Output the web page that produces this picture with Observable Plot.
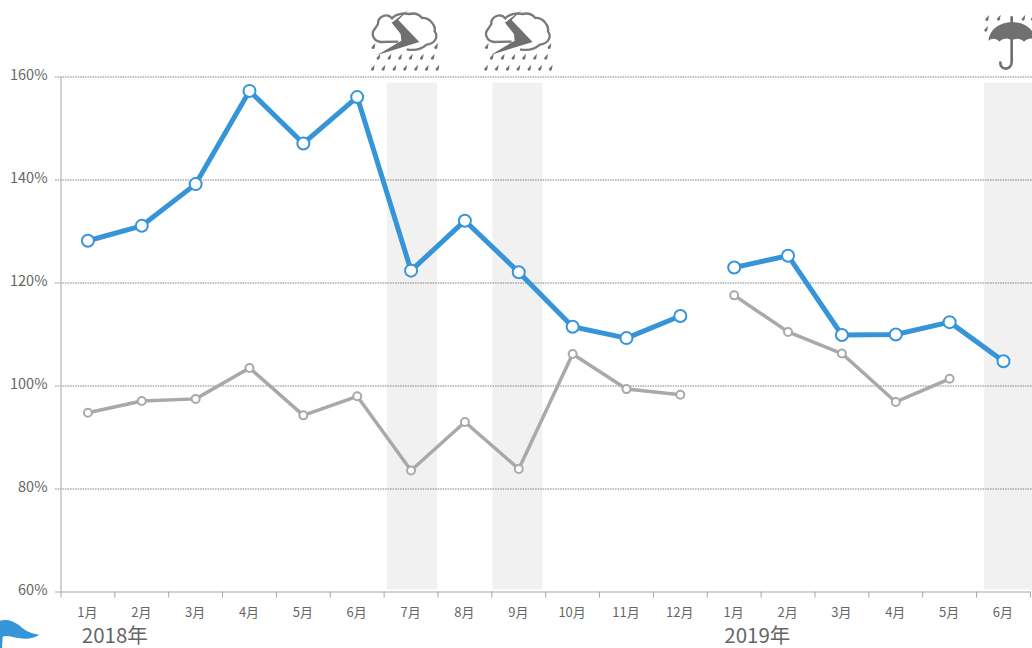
<!DOCTYPE html>
<html>
<head>
<meta charset="utf-8">
<script src="https://cdn.jsdelivr.net/npm/d3@7"></script>
<script src="https://cdn.jsdelivr.net/npm/@observablehq/plot@0.6"></script>
<style>
html,body{margin:0;padding:0;background:#fff;overflow:hidden}
svg{display:block}
</style>
</head>
<body>
<div id="chart"></div>
<script>
const months = ["1月","2月","3月","4月","5月","6月","7月","8月","9月","10月","11月","12月","1月","2月","3月","4月","5月","6月"];
const years = [2018,2018,2018,2018,2018,2018,2018,2018,2018,2018,2018,2018,2019,2019,2019,2019,2019,2019];
const blueValues = [128.2,131.1,139.2,157.3,147.1,156.1,122.4,132.1,122.1,111.5,109.3,113.6,123,125.3,109.9,110,112.4,104.8];
const grayValues = [94.8,97.1,97.5,103.5,94.3,98,83.6,93,83.9,106.2,99.4,98.3,117.6,110.5,106.3,96.9,101.4,null];
const yTicks = [60,80,100,120,140,160];
const yearLabels = [{at:1,label:"2018年"},{at:12.93,label:"2019年"}];
const shades = [{x1:6.06,x2:6.99},{x1:8.02,x2:8.95},{x1:17.15,x2:18.1}];

const BLUE="#3694d9", GRAY="#a9a9a9", TEXT="#666666", FONT="'Noto Sans CJK JP','Noto Sans',sans-serif";
const rows = months.map((m,i)=>({i:i+0.5,m,year:years[i],blue:blueValues[i],gray:grayValues[i]}));
const grayRows = rows.filter(d=>d.gray!=null);

function drops(list){return list.map(([x,y])=>`M${x+6},${y-11}L${x-5},${y+1}C${x-7},${y+8} ${x+3},${y+9} ${x+4},${y+3}Z`).join("");}
const stormDrops = drops([[40,140],[228,140],[55,172],[88,172],[120,172],[152,172],[185,172],[218,172],[38,205],[70,205],[103,205],[135,205],[168,205],[200,205],[232,205]]);
function stormIcon(g,tx){
  const s=g.append("g").attr("transform",`translate(${tx},0) scale(0.3333)`);
  s.append("path").attr("d","M115,125 L62,126 C42,124 30,102 45,86 C48,80 52,76 54,72 C52,52 80,36 96,55 C106,42 130,38 148,42 C165,38 178,44 186,54 C208,52 228,76 224,94 C236,110 226,130 200,134 C184,148 160,152 140,148").attr("fill","none").attr("stroke","#7a7a7a").attr("stroke-width",7);
  s.append("path").attr("d","M145,30 L95,68 L122,102 L124,122 L52,165 L178,126 L115,60 Z").attr("fill","#707070");
  s.append("path").attr("d",stormDrops).attr("fill","#707070");
}
function umbrella(g){
  const s=g.append("g").attr("transform","translate(960,0) scale(0.3333)");
  s.append("path").attr("d","M85,123 C90,85 120,68 155,66 C190,66 222,85 230,123 C220,113 205,113 192,125 C180,113 165,115 155,122 C145,113 130,113 118,125 C108,114 95,114 85,123Z").attr("fill","#707070");
  s.append("path").attr("d","M155,52 L155,186 C155,212 120,212 121,188").attr("fill","none").attr("stroke","#707070").attr("stroke-width",8).attr("stroke-linecap","round");
  s.append("path").attr("d",drops([[81,56],[116,55],[190,55],[218,55],[78,88]])).attr("fill","#707070");
}
function flag(g){
  g.append("path").attr("transform","translate(0,570) scale(0.3333)")
   .attr("d","M0,152 C20,146 40,152 58,166 C72,180 88,190 117,194 C105,204 80,208 60,205 C40,202 22,194 8,200 L6,234 L0,234 Z").attr("fill",BLUE);
}
function decorations(){
  const g=d3.create("svg:g");
  stormIcon(g,360); stormIcon(g,473.3); umbrella(g); flag(g);
  return g.node();
}

const chart = Plot.plot({
  width:1032, height:648,
  marginLeft:60.5, marginRight:2.1, marginTop:76.5, marginBottom:56.5,
  style:{fontFamily:FONT, background:"#fff", color:TEXT},
  x:{domain:[0,18], axis:null},
  y:{domain:[60,160], axis:null},
  marks:[
    Plot.rect(shades,{x1:"x1",x2:"x2",y1:60.4,y2:158.8,fill:"#f1f1f1"}),
    Plot.ruleY(yTicks.filter(d=>d>60),{x1:-0.1,x2:18.2,stroke:"#7f7f7f",strokeWidth:1,strokeDasharray:"1.5 1"}),
    Plot.ruleY([60],{x1:-0.1,x2:18,stroke:"#a6a6a6",strokeWidth:1}),
    Plot.ruleX([0],{y1:60,y2:160,stroke:"#a6a6a6",strokeWidth:1}),
    Plot.axisY({ticks:yTicks,tickFormat:d=>d+"%",tickSize:0,tickPadding:13.5,dy:-1.5,fontSize:14.5,stroke:TEXT,fill:TEXT}),
    Plot.axisX({ticks:d3.range(0,19),tickSize:6,tickPadding:0,tickFormat:()=>"",stroke:"#a6a6a6"}),
    Plot.axisX({ticks:rows.map(d=>d.i),tickSize:0,tickPadding:15.5,tickFormat:(d)=>months[Math.floor(d)],fontSize:13,dx:-0.5,fill:TEXT}),
    Plot.axisX({ticks:yearLabels.map(d=>d.at),tickSize:0,tickPadding:36.5,tickFormat:d=>yearLabels.find(y=>y.at===d).label,fontSize:20.5,fill:TEXT}),
    Plot.line(grayRows,{x:"i",y:"gray",z:"year",stroke:GRAY,strokeWidth:3.5,curve:"linear"}),
    Plot.dot(grayRows,{x:"i",y:"gray",r:4,fill:"#fff",stroke:GRAY,strokeWidth:2}),
    Plot.line(rows,{x:"i",y:"blue",z:"year",stroke:BLUE,strokeWidth:5,curve:"linear"}),
    Plot.dot(rows,{x:"i",y:"blue",r:6,fill:"#fff",stroke:BLUE,strokeWidth:2}),
    decorations
  ]
});
document.getElementById("chart").appendChild(chart);
</script>
</body>
</html>
